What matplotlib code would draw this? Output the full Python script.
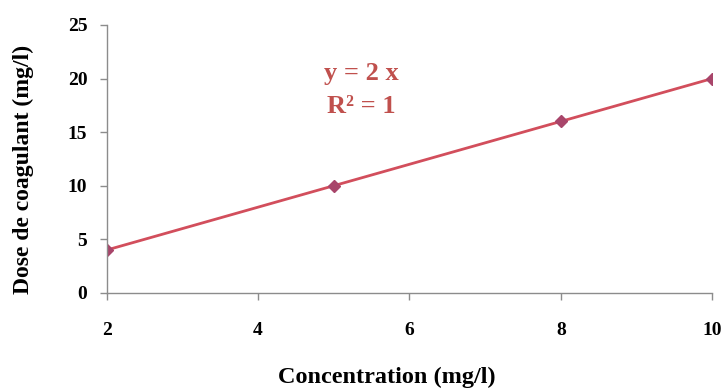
import matplotlib
matplotlib.use("Agg")
import matplotlib.pyplot as plt

# Dose de coagulant en fonction de la concentration
concentration = [2, 5, 8, 10]
dose = [4, 10, 16, 20]
x_ticks = [2, 4, 6, 8, 10]
y_ticks = [0, 5, 10, 15, 20, 25]

plt.rcParams['font.family'] = ['Liberation Serif', 'DejaVu Serif']
plt.rcParams['font.weight'] = 'bold'

fig = plt.figure(figsize=(7.26, 3.90), dpi=100)
ax = fig.add_axes([0.147, 0.249, 0.834, 0.687])

ax.plot(concentration, dose, color='#d24e5c', linewidth=2,
        marker='D', markersize=6, markerfacecolor='#a8456a', markeredgecolor='#a8456a')

ax.set_xlim(2, 10)
ax.set_ylim(0, 25)
ax.set_xticks(x_ticks)
ax.set_yticks(y_ticks)
ax.tick_params(axis='both', labelsize=14, color='#8c8c8c', length=5, width=1)
ax.tick_params(axis='x', pad=16)
ax.tick_params(axis='y', pad=9)
for lbl in ax.get_xticklabels() + ax.get_yticklabels():
    lbl.set_fontweight('bold')

for side in ['top', 'right']:
    ax.spines[side].set_visible(False)
for side in ['left', 'bottom']:
    ax.spines[side].set_color('#8c8c8c')
    ax.spines[side].set_linewidth(1)

ax.set_xlabel('Concentration (mg/l)', fontsize=17.5, fontweight='bold', labelpad=20)
ax.set_ylabel('Dose de coagulant (mg/l)', fontsize=17, fontweight='bold', labelpad=24)
# titres d'axes légèrement décentrés
ax.xaxis.label.set_x(0.463)
ax.yaxis.label.set_y(0.459)

# équation de la droite de régression
ax.text(5.36, 20.5, 'y = 2 x', ha='center', va='center', fontsize=19,
        fontweight='bold', color='#c0504d')
ax.text(5.36, 17.35, 'R² = 1', ha='center', va='center', fontsize=19,
        fontweight='bold', color='#c0504d')

fig.savefig('out.png', dpi=100)
